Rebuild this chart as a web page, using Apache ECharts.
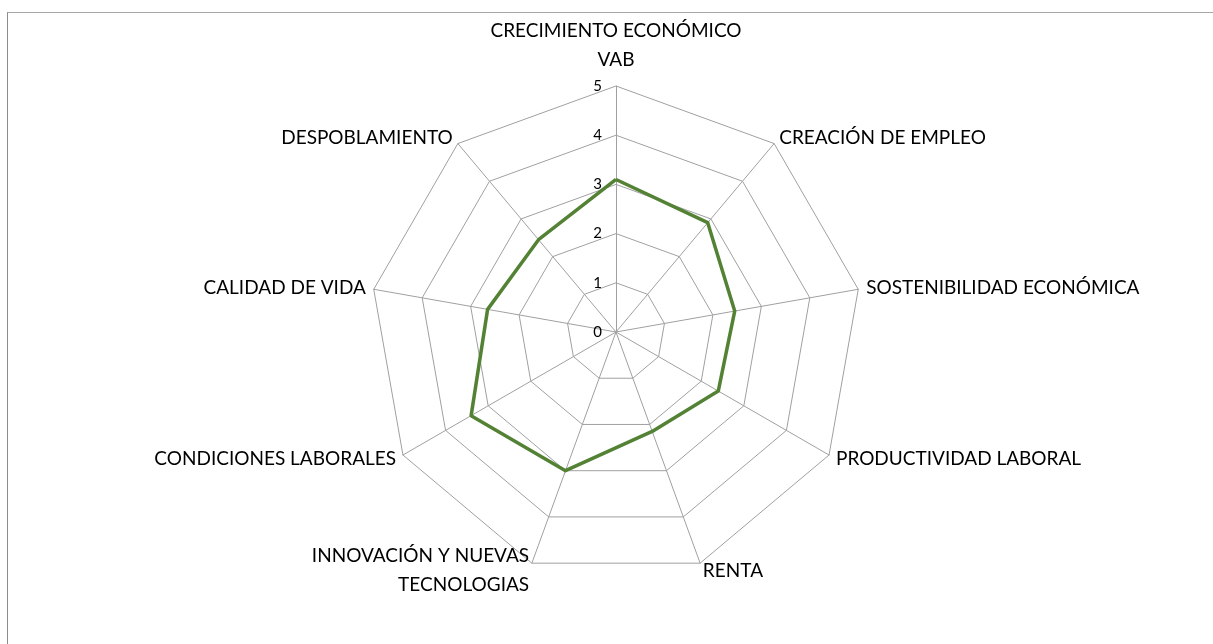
<!DOCTYPE html>
<html>
<head>
<meta charset="utf-8">
<script src="https://cdn.jsdelivr.net/npm/echarts@6/dist/echarts.min.js"></script>
<style>
  body { margin: 0; background: #fff; }
  #chart { width: 1213px; height: 644px; position: relative; }
  #frame { position: absolute; left: 7px; top: 12px; width: 1300px; height: 700px;
           border-top: 1px solid #a6a6a6; border-left: 1px solid #8c8c8c; pointer-events: none; }
</style>
</head>
<body>
<div id="chart"></div>
<div id="frame"></div>
<script>
  // ejes del radar (sentido horario desde arriba)
  var categorias = [
    'CRECIMIENTO ECONÓMICO\nVAB',
    'CREACIÓN DE EMPLEO',
    'SOSTENIBILIDAD ECONÓMICA',
    'PRODUCTIVIDAD LABORAL',
    'RENTA',
    'INNOVACIÓN Y NUEVAS\nTECNOLOGIAS',
    'CONDICIONES LABORALES',
    'CALIDAD DE VIDA',
    'DESPOBLAMIENTO'
  ];
  var valores = [3.1, 2.9, 2.45, 2.4, 2.15, 3.0, 3.4, 2.65, 2.45];
  var escalaMax = 5;

  // echarts dibuja el radar en sentido antihorario: se invierte el orden
  // dejando el primer eje arriba
  var orden = [0];
  for (var k = categorias.length - 1; k > 0; k--) orden.push(k);

  var chart = echarts.init(document.getElementById('chart'));

  var indicadores = orden.map(function (i) {
    var ind = { name: categorias[i], min: 0, max: escalaMax };
    if (i === 0) {
      // solo el eje vertical lleva las etiquetas 0..5
      ind.axisLabel = { show: true };
      ind.nameGap = 12;
    }
    return ind;
  });
  var valoresOrden = orden.map(function (i) { return valores[i]; });

  chart.setOption({
    animation: false,
    textStyle: { fontFamily: 'Lato', color: '#000' },
    radar: {
      center: [616, 332],
      radius: 246,
      startAngle: 90,
      splitNumber: 5,
      shape: 'polygon',
      indicator: indicadores,
      nameGap: 8,
      axisName: {
        color: '#000',
        fontSize: 19,
        fontFamily: 'Lato',
        lineHeight: 29
      },
      axisLine: { lineStyle: { color: '#a0a0a0', width: 1 } },
      splitLine: { lineStyle: { color: '#a0a0a0', width: 1 } },
      splitArea: { show: false },
      axisTick: { show: false },
      axisLabel: {
        show: false,
        color: '#000',
        fontSize: 15,
        fontFamily: 'Lato',
        margin: 14
      }
    },
    series: [{
      type: 'radar',
      symbol: 'none',
      lineStyle: { color: '#548235', width: 3.5 },
      itemStyle: { color: '#548235' },
      data: [{ value: valoresOrden }]
    }]
  });
</script>
</body>
</html>
